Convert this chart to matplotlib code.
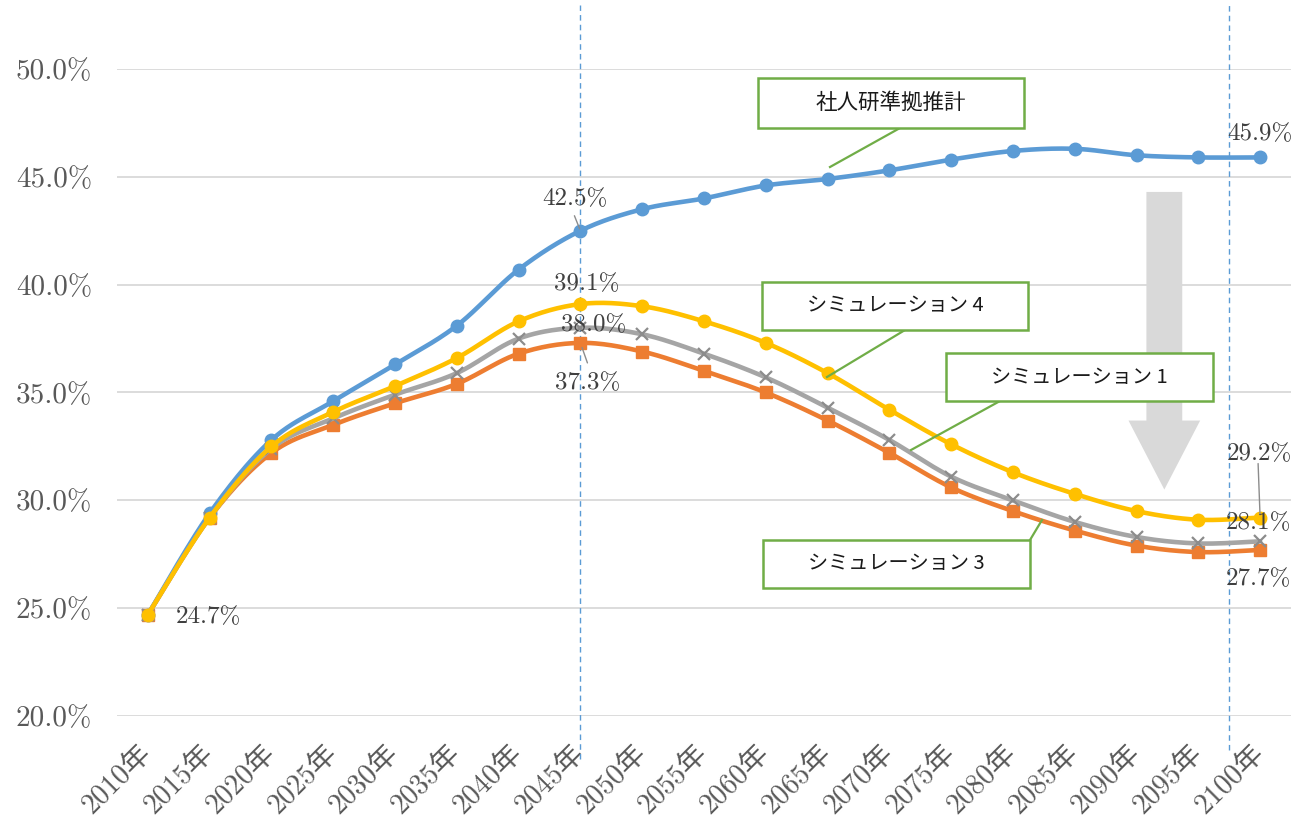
import numpy as np
import matplotlib
matplotlib.use('Agg')
import matplotlib.pyplot as plt
from matplotlib.patches import Rectangle, Polygon
from matplotlib.lines import Line2D
from matplotlib.transforms import ScaledTranslation, blended_transform_factory

# ---------------- data ----------------
years = ["2010年", "2015年", "2020年", "2025年", "2030年", "2035年", "2040年",
         "2045年", "2050年", "2055年", "2060年", "2065年", "2070年", "2075年",
         "2080年", "2085年", "2090年", "2095年", "2100年"]
base = [24.7, 29.4, 32.8, 34.6, 36.3, 38.1, 40.7, 42.5, 43.5, 44.0, 44.6, 44.9,
        45.3, 45.8, 46.2, 46.3, 46.0, 45.9, 45.9]
sim4 = [24.7, 29.2, 32.5, 34.1, 35.3, 36.6, 38.3, 39.1, 39.0, 38.3, 37.3, 35.9,
        34.2, 32.6, 31.3, 30.3, 29.5, 29.1, 29.2]
sim1 = [24.7, 29.2, 32.4, 33.8, 34.9, 35.9, 37.5, 38.0, 37.7, 36.8, 35.7, 34.3,
        32.8, 31.1, 30.0, 29.0, 28.3, 28.0, 28.1]
sim3 = [24.7, 29.2, 32.2, 33.5, 34.5, 35.4, 36.8, 37.3, 36.9, 36.0, 35.0, 33.7,
        32.2, 30.6, 29.5, 28.6, 27.9, 27.6, 27.7]
series_names = ["社人研準拠推計", "シミュレーション 4", "シミュレーション 1", "シミュレーション 3"]
yticks = [20, 25, 30, 35, 40, 45, 50]

W, H = 1294, 821
fig = plt.figure(figsize=(W / 100, H / 100), dpi=100)
ax = fig.add_axes([117 / W, 1 - 716 / H, (1291 - 117) / W, (716 - 69) / H])

SERIF = ['cmr10', 'Noto Sans CJK JP', 'DejaVu Sans']
SANS = ['Noto Sans CJK JP', 'DejaVu Sans']


def smooth(xv, yv, n=24):
    P = np.column_stack([xv, yv]).astype(float)
    ext = np.vstack([P[0], P, P[-1]])
    out = [P[0]]
    t = np.linspace(0, 1, n + 1)[1:, None]
    for i in range(len(P) - 1):
        p0, p1, p2, p3 = ext[i], ext[i + 1], ext[i + 2], ext[i + 3]
        c1 = p1 + (p2 - p0) / 6
        c2 = p2 - (p3 - p1) / 6
        seg = ((1 - t) ** 3) * p1 + 3 * ((1 - t) ** 2) * t * c1 + 3 * (1 - t) * t ** 2 * c2 + t ** 3 * p2
        out.extend(seg)
    out = np.array(out)
    return out[:, 0], out[:, 1]


x = np.arange(len(years))
styles = [
    (base, '#5B9BD5', 'o', 9, 4),
    (sim3, '#ED7D31', 's', 9, 3),
    (sim1, '#A5A5A5', 'x', 8, 5),
    (sim4, '#FFC000', 'o', 9, 6),
]
for vals, col, mk, ms, z in styles:
    sx, sy = smooth(x, vals)
    ax.plot(sx, sy, color=col, lw=3.3, solid_capstyle='round', zorder=z)
    if mk == 'x':
        ax.plot(x, vals, ls='none', marker='x', ms=ms, mew=1.6, color='#8C8C8C', zorder=z)
    else:
        ax.plot(x, vals, ls='none', marker=mk, ms=ms, color=col, mec=col, zorder=z)

ax.set_xlim(-0.5, len(years) - 0.5)
ax.set_ylim(20, 50)
ax.set_yticks(yticks)
ax.set_yticklabels([f"{v:.1f}%" for v in yticks], family=SERIF, fontsize=21, color='#595959')
ax.set_xticks(x)
ax.set_xticklabels(years, family=SERIF, fontsize=20.5, color='#595959',
                   rotation=45, ha='right', va='center', rotation_mode='anchor')
shift = ScaledTranslation(-9 / 100, 0, fig.dpi_scale_trans)
for lab in ax.get_xticklabels():
    lab.set_transform(lab.get_transform() + shift)
ax.tick_params(axis='y', length=0, pad=18)
ax.tick_params(axis='x', length=0, pad=24)
for s in ax.spines.values():
    s.set_visible(False)
ax.yaxis.grid(True, color='#D9D9D9', lw=1.3)
ax.set_axisbelow(True)

# vertical dashed reference lines
trans = blended_transform_factory(ax.transData, ax.transAxes)
for xv, yb in [(7, -0.066), (17.5, -0.053)]:
    ax.add_line(Line2D([xv, xv], [yb, 1.099], transform=trans, color='#5B9BD5',
                       lw=1.0, ls=(0, (4, 3)), clip_on=False, zorder=2))

# big gray arrow (data coords)
ax.add_patch(Polygon([(16.16, 44.3), (16.74, 44.3), (16.74, 33.7), (17.03, 33.7),
                      (16.45, 30.5), (15.87, 33.7), (16.16, 33.7)],
                     closed=True, facecolor='#D9D9D9', edgecolor='none', zorder=1))

# data labels
LAB = dict(family=SERIF, fontsize=18, color='#404040', ha='center', va='center', zorder=10)
labels = [
    (0, base, "24.7%", (60, -2)),
    (7, base, "42.5%", (-6, 32)),
    (7, sim4, "39.1%", (6, 20)),
    (7, sim1, "38.0%", (13, 3)),
    (7, sim3, "37.3%", (7, -40)),
    (18, base, "45.9%", (0, 23)),
    (18, sim4, "29.2%", (-1, 64)),
    (18, sim1, "28.1%", (-2, 18)),
    (18, sim3, "27.7%", (-2, -29)),
]
for i, vals, txt, off in labels:
    ax.annotate(txt, (x[i], vals[i]), xytext=off, textcoords='offset pixels', **LAB)

# leader lines for data labels
for i, vals, a, shr in [(7, base, (-6, 15), 1.5), (7, sim3, (7, -20), 3.5),
                        (18, sim4, (-2, 54), 2.0)]:
    ax.annotate("", (x[i], vals[i]), xytext=a, textcoords='offset pixels',
                arrowprops=dict(arrowstyle='-', color='#8C8C8C', lw=1.0,
                                shrinkA=0, shrinkB=shr),
                zorder=9)


def F(px, py):
    return (px / W, 1 - py / H)


# callout boxes (figure pixel layout)
boxes = [
    (series_names[0], 758, 78, 1024, 128, (900, 128), (830, 167), 15.5),
    (series_names[1], 762, 282, 1028, 330, (905, 330), (827, 377), 14.5),
    (series_names[2], 946, 353, 1213, 401, (1000, 401), (911, 450), 14.5),
    (series_names[3], 763, 540, 1030, 588, (1030, 540), (1042, 520), 14.5),
]
for name, x0, y0, x1, y1, la, lb, fs in boxes:
    fig.add_artist(Line2D([la[0] / W, lb[0] / W], [1 - la[1] / H, 1 - lb[1] / H],
                          color='#70AD47', lw=1.6, zorder=11))
    fig.add_artist(Rectangle(F(x0, y1), (x1 - x0) / W, (y1 - y0) / H,
                             transform=fig.transFigure, facecolor='white',
                             edgecolor='#70AD47', lw=1.8, zorder=12))
    cx, cy = F((x0 + x1) / 2, (y0 + y1) / 2)
    fig.text(cx, cy, name, family=SANS, fontsize=fs, color='#1A1A1A',
             ha='center', va='center', zorder=13)

fig.savefig('out.png', dpi=100, facecolor='white')
